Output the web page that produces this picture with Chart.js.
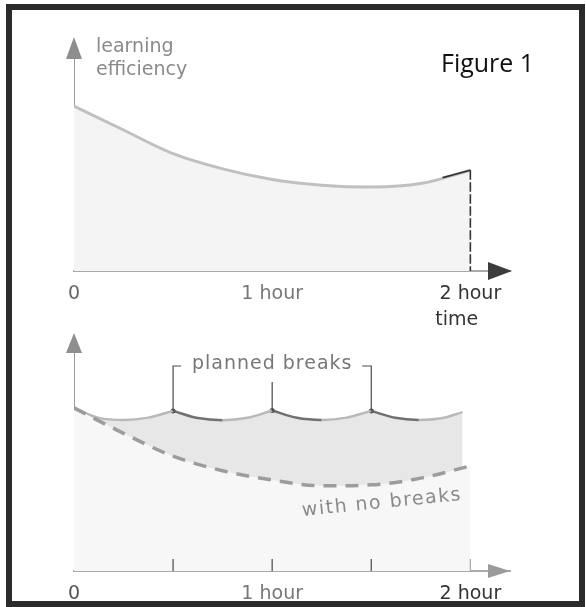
<!DOCTYPE html>
<html>
<head>
<meta charset="utf-8">
<script src="https://cdn.jsdelivr.net/npm/chart.js@4.4.1/dist/chart.umd.min.js"></script>
<style>
  html, body { margin: 0; padding: 0; background: #fff; }
  #page { position: relative; width: 586px; height: 607px; overflow: hidden; background: #fff; }
  #page canvas { position: absolute; left: 0; top: 0; }
  #frame { position: absolute; left: 6px; top: 4px; width: 579px; height: 603px; border: 6px solid #2b2b2b; box-sizing: border-box; }
</style>
</head>
<body>
<div id="page">
  <canvas id="topChart" width="586" height="607"></canvas>
  <canvas id="bottomChart" width="586" height="607"></canvas>
  <div id="frame"></div>
</div>
<script>
// efficiency is on an arbitrary 0-100 scale, time in hours
const tickHours = [0, 1, 2];
const tickLabels = ['0', '1 hour', '2 hour'];

// upper figure: one long session
const sessionHours = [0, 0.25, 0.5, 0.75, 1, 1.25, 1.5, 1.75, 2];
const sessionEfficiency = [71.7, 61.3, 51.0, 44.4, 39.8, 37.3, 36.5, 38.0, 43.8];

// dark end stroke + dashed drop to the axis
const cutoffHours = [1.86, 2, 2];
const cutoffEfficiency = [40.6, 43.8, 0];

// lower figure
const noBreakHours = [0, 0.25, 0.5, 0.75, 1, 1.25, 1.5, 1.75, 2];
const noBreakEfficiency = [70.6, 59.6, 49.7, 43.4, 39.4, 36.9, 37.3, 40.2, 45.5];

const breakTimes = [0.5, 1, 1.5];
const scallopHours = [
  [0, 0.125, 0.25, 0.375, 0.5],
  [0.5, 0.625, 0.75, 0.875, 1],
  [1, 1.125, 1.25, 1.375, 1.5],
  [1.5, 1.62, 1.74, 1.86, 1.96]
];
const scallopEfficiency = [
  [70.6, 66.3, 65.4, 66.4, 69.3],
  [69.3, 66.2, 65.3, 66.3, 69.5],
  [69.5, 66.3, 65.4, 66.4, 69.3],
  [69.3, 66.3, 65.4, 66.2, 68.8]
];

function points(xs, ys) {
  return xs.map((x, i) => ({ x: x, y: ys[i] }));
}

function arrowUp(ctx, x, tipY, len, half, color) {
  ctx.fillStyle = color;
  ctx.beginPath();
  ctx.moveTo(x, tipY);
  ctx.lineTo(x + half, tipY + len);
  ctx.lineTo(x - half, tipY + len);
  ctx.closePath();
  ctx.fill();
}

function arrowRight(ctx, tipX, y, len, half, color) {
  ctx.fillStyle = color;
  ctx.beginPath();
  ctx.moveTo(tipX, y);
  ctx.lineTo(tipX - len, y - half);
  ctx.lineTo(tipX - len, y + half);
  ctx.closePath();
  ctx.fill();
}

function xAxis(colors, height) {
  return {
    type: 'linear',
    min: 0,
    max: 2.2,
    grid: { display: false },
    border: { display: true, color: '#a9a9a9', width: 2 },
    afterBuildTicks: scale => { scale.ticks = tickHours.map(v => ({ value: v })); },
    afterFit: scale => { scale.height = height; },
    ticks: {
      autoSkip: false,
      maxRotation: 0,
      padding: 4,
      color: colors,
      font: { family: 'DejaVu Sans', size: 19 },
      callback: (v, i) => tickLabels[i]
    }
  };
}

const yAxis = {
  min: 0,
  max: 100,
  grid: { display: false },
  ticks: { display: false },
  border: { display: true, color: '#9a9a9a', width: 1 },
  afterFit: scale => { scale.width = 0; }
};

const topDecor = {
  id: 'topDecor',
  afterDraw(chart) {
    const { ctx, chartArea: a, scales: { x } } = chart;
    ctx.save();
    arrowUp(ctx, a.left, a.top - 4, 22, 8, '#8e8e8e');
    arrowRight(ctx, a.right + 2, a.bottom, 24, 9, '#3c3c3c');
    ctx.font = '19px "DejaVu Sans"';
    ctx.textBaseline = 'alphabetic';
    ctx.fillStyle = '#8a8a8a';
    ctx.fillText('learning', a.left + 22, 52);
    ctx.fillText('efficiency', a.left + 22, 75);
    ctx.fillStyle = '#333';
    ctx.fillText('time', x.getPixelForValue(2) - 35, 325);
    ctx.font = '25px "Open Sans"';
    ctx.fillStyle = '#111';
    ctx.fillText('Figure 1', 441, 72);
    ctx.restore();
  }
};

const bottomDecor = {
  id: 'bottomDecor',
  afterDraw(chart) {
    const { ctx, chartArea: a, scales: { x, y } } = chart;
    ctx.save();
    arrowUp(ctx, a.left, a.top - 7, 20, 8, '#8e8e8e');
    arrowRight(ctx, a.right, a.bottom, 22, 7, '#9a9a9a');

    // small upward ticks on the time axis
    ctx.lineWidth = 1.3;
    breakTimes.concat([2]).forEach(t => {
      const px = x.getPixelForValue(t);
      ctx.strokeStyle = t === 2 ? '#aaa' : '#555';
      ctx.beginPath();
      ctx.moveTo(px, a.bottom - 12);
      ctx.lineTo(px, a.bottom);
      ctx.stroke();
    });

    // planned breaks bracket
    const top = a.top + 26;
    const left = x.getPixelForValue(breakTimes[0]);
    const mid = x.getPixelForValue(breakTimes[1]);
    const right = x.getPixelForValue(breakTimes[2]);
    const peak = y.getPixelForValue(scallopEfficiency[1][0]);
    ctx.strokeStyle = '#4a4a4a';
    ctx.lineWidth = 1.2;
    ctx.beginPath();
    ctx.moveTo(left + 8, top);
    ctx.lineTo(left, top);
    ctx.lineTo(left, peak);
    ctx.moveTo(right - 9, top);
    ctx.lineTo(right, top);
    ctx.lineTo(right, peak);
    ctx.moveTo(mid, top + 16);
    ctx.lineTo(mid, peak);
    ctx.stroke();

    ctx.font = '19px "DejaVu Sans"';
    ctx.letterSpacing = '1px';
    ctx.fillStyle = '#777';
    ctx.textAlign = 'center';
    ctx.textBaseline = 'middle';
    ctx.fillText('planned breaks', mid, top - 2);

    ctx.letterSpacing = '1.5px';
    ctx.fillStyle = '#8a8a8a';
    ctx.translate(382, 503);
    ctx.rotate(-0.1);
    ctx.fillText('with no breaks', 0, 0);
    ctx.restore();
  }
};

new Chart(document.getElementById('topChart'), {
  type: 'line',
  data: {
    datasets: [
      {
        data: points(sessionHours, sessionEfficiency),
        borderColor: '#c0c0c0',
        borderWidth: 3,
        backgroundColor: '#f4f4f4',
        fill: 'origin',
        cubicInterpolationMode: 'monotone',
        pointRadius: 0,
        order: 2
      },
      {
        data: points(cutoffHours, cutoffEfficiency),
        borderColor: '#333',
        borderWidth: 1.6,
        fill: false,
        pointRadius: 0,
        segment: { borderDash: ctx => (ctx.p0DataIndex === 1 ? [7, 5] : undefined) },
        order: 1
      }
    ]
  },
  options: {
    responsive: false,
    animation: false,
    layout: { padding: { left: 74, right: 76, top: 41, bottom: 300 } },
    plugins: { legend: { display: false }, tooltip: { enabled: false } },
    scales: { x: xAxis(['#666', '#777', '#333'], 36), y: yAxis }
  },
  plugins: [topDecor]
});

// one shaded band under all the scallops (avoids seams between segment fills)
const scallopBand = [];
scallopHours.forEach((hours, s) => {
  hours.forEach((h, i) => {
    if (s > 0 && i === 0) return;
    scallopBand.push({ x: h, y: scallopEfficiency[s][i] });
  });
});

const scallopSets = scallopHours.map((hours, s) => ({
  data: points(hours, scallopEfficiency[s]),
  borderColor: '#b9b9b9',
  borderWidth: 2.5,
  fill: false,
  cubicInterpolationMode: 'monotone',
  pointRadius: hours.map((h, i) => (i === 0 && s > 0 ? 2.5 : 0)),
  pointBackgroundColor: '#555',
  pointBorderWidth: 0,
  segment: { borderColor: ctx => (s > 0 && ctx.p0DataIndex < 2 ? '#707070' : undefined) },
  order: 2
}));

new Chart(document.getElementById('bottomChart'), {
  type: 'line',
  data: {
    datasets: [
      {
        data: scallopBand,
        borderWidth: 0,
        backgroundColor: '#e7e7e7',
        fill: 'origin',
        tension: 0,
        pointRadius: 0,
        order: 3
      }
    ].concat(scallopSets, [
      {
        data: points(noBreakHours, noBreakEfficiency),
        borderColor: '#9c9c9c',
        borderWidth: 3.5,
        borderDash: [13, 9],
        backgroundColor: '#f7f7f7',
        fill: 'origin',
        cubicInterpolationMode: 'monotone',
        pointRadius: 0,
        order: 1
      }
    ])
  },
  options: {
    responsive: false,
    animation: false,
    layout: { padding: { left: 74, right: 76, top: 340, bottom: 0 } },
    plugins: { legend: { display: false }, tooltip: { enabled: false } },
    scales: { x: xAxis(['#555', '#777', '#333'], 36), y: yAxis }
  },
  plugins: [bottomDecor]
});
</script>
</body>
</html>
